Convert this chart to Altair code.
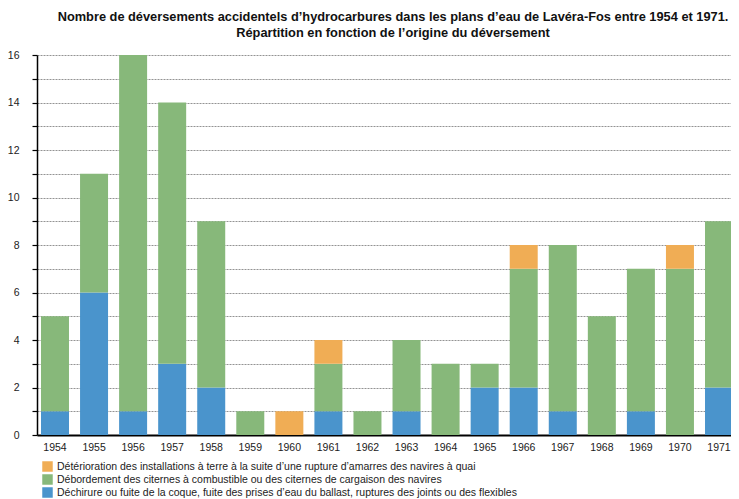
import altair as alt
import pandas as pd

years = [str(y) for y in range(1954, 1972)]
dechirure = [1, 6, 1, 3, 2, 0, 0, 1, 0, 1, 0, 2, 2, 1, 0, 1, 0, 2]
debordement = [4, 5, 15, 11, 7, 1, 0, 2, 1, 3, 3, 1, 5, 7, 5, 6, 7, 7]
deterioration = [0, 0, 0, 0, 0, 0, 1, 1, 0, 0, 0, 0, 1, 0, 0, 0, 1, 0]

cat_orange = "Détérioration des installations à terre à la suite d’une rupture d’amarres des navires à quai"
cat_green = "Débordement des citernes à combustible ou des citernes de cargaison des navires"
cat_blue = "Déchirure ou fuite de la coque, fuite des prises d’eau du ballast, ruptures des joints ou des flexibles"

rows = []
for i, y in enumerate(years):
    rows.append({"year": y, "cat": cat_blue, "val": dechirure[i], "ord": 0})
    rows.append({"year": y, "cat": cat_green, "val": debordement[i], "ord": 1})
    rows.append({"year": y, "cat": cat_orange, "val": deterioration[i], "ord": 2})
df = pd.DataFrame(rows)

font = "Liberation Sans"

chart = alt.Chart(df).mark_bar(size=28).encode(
    x=alt.X("year:N", sort=years, title=None,
            scale=alt.Scale(range=[0, 700], paddingInner=0.283, paddingOuter=0.102),
            axis=alt.Axis(labelAngle=0, ticks=False, domainColor="black", domainWidth=2,
                          labelFontSize=10.5, labelFont=font, labelColor="#222", labelPadding=7)),
    y=alt.Y("val:Q", stack="zero", title=None,
            scale=alt.Scale(domain=[0, 16], nice=False),
            axis=alt.Axis(values=list(range(0, 17)),
                          labelExpr="datum.value % 2 == 0 ? datum.label : ''",
                          grid=True, gridDash=[2, 1], gridColor="#777", gridWidth=0.8,
                          domainColor="black", domainWidth=1.5,
                          tickColor="black", tickSize=5, tickWidth=1.2,
                          labelFontSize=10.5, labelFont=font, labelColor="#222", labelPadding=13)),
    color=alt.Color("cat:N", title=None,
                    scale=alt.Scale(domain=[cat_orange, cat_green, cat_blue],
                                    range=["#f0ad55", "#87b87a", "#4a94cc"]),
                    legend=alt.Legend(orient="none", legendX=5, legendY=406, symbolType="square",
                                      symbolSize=110, symbolStrokeWidth=0, symbolOpacity=1,
                                      labelFontSize=10.5, labelFont=font, labelColor="#222",
                                      rowPadding=2, labelLimit=700)),
    order=alt.Order("ord:Q"),
).properties(
    width=694, height=380,
    title=alt.Title(["Nombre de déversements accidentels d’hydrocarbures dans les plans d’eau de Lavéra-Fos entre 1954 et 1971.",
                     "Répartition en fonction de l’origine du déversement"],
                    fontSize=12.8, font=font, fontWeight="bold", color="#111", anchor="middle",
                    dx=9, offset=10, lineHeight=16),
    autosize=alt.AutoSizeParams(type="none"),
    padding={"left": 29, "top": 47, "right": 0, "bottom": 80},
).configure_view(stroke=None)

chart.save("out.html", embed_options={"renderer": "svg", "actions": False})
